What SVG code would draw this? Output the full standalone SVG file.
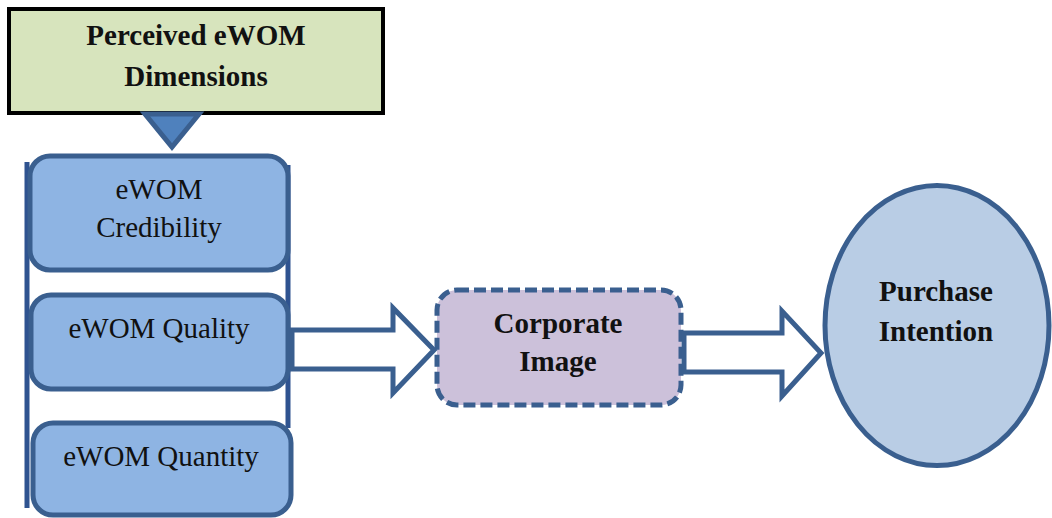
<svg xmlns="http://www.w3.org/2000/svg" width="1052" height="518" viewBox="0 0 1052 518">
<style>
.bold{font-family:"Liberation Serif","Times New Roman",serif;font-weight:bold;font-size:29px;fill:#111;text-anchor:middle}
.reg{font-family:"Liberation Serif","Times New Roman",serif;font-size:29px;fill:#111;text-anchor:middle}
.dim{fill:#8eb4e3;stroke:#3a5f8f;stroke-width:5}
.conn{fill:#fff;stroke:#3a5f8f;stroke-width:5;stroke-linejoin:miter}
</style>
<rect width="1052" height="518" fill="#fff"/>
<g id="header">
<rect x="9" y="9" width="374" height="104" fill="#d7e4bd" stroke="#000" stroke-width="4"/>
<text class="bold" x="196" y="45">Perceived eWOM</text>
<text class="bold" x="196" y="86">Dimensions</text>
</g>
<g id="bracket" fill="none" stroke="#2f5390" stroke-width="5">
<line x1="27" y1="162" x2="27" y2="508"/>
<line x1="288" y1="165" x2="288" y2="428"/>
</g>
<g id="credibility">
<rect class="dim" x="30" y="156" width="258" height="114" rx="20"/>
<text class="reg" x="159" y="199">eWOM</text>
<text class="reg" x="159" y="237">Credibility</text>
</g>
<g id="quality">
<rect class="dim" x="31" y="295" width="257" height="94" rx="20"/>
<text class="reg" x="159" y="338">eWOM Quality</text>
</g>
<g id="quantity">
<rect class="dim" x="33" y="423" width="258" height="92" rx="20"/>
<text class="reg" x="161" y="466">eWOM Quantity</text>
</g>
<g id="corporate-image">
<rect x="437" y="290" width="244" height="115" rx="20" fill="#ccc1da" stroke="#3a5f8f" stroke-width="5" stroke-dasharray="12 5"/>
<text class="bold" x="558" y="333">Corporate</text>
<text class="bold" x="558" y="371">Image</text>
</g>
<g id="purchase-intention">
<ellipse cx="937" cy="325.5" rx="112" ry="140" fill="#b9cde5" stroke="#3a5f8f" stroke-width="5"/>
<text class="bold" x="936" y="301">Purchase</text>
<text class="bold" x="936" y="341">Intention</text>
</g>
<g id="connectors">
<polygon points="145,114 199,114 172,147" fill="#4f81bd" stroke="#3a5f8f" stroke-width="5"/>
<polygon class="conn" points="292,330 393,330 393,308 434,350 393,393 393,369 292,369"/>
<polygon class="conn" points="684,333 782,333 782,311 821,353 782,396 782,372 684,372"/>
</g>
</svg>
